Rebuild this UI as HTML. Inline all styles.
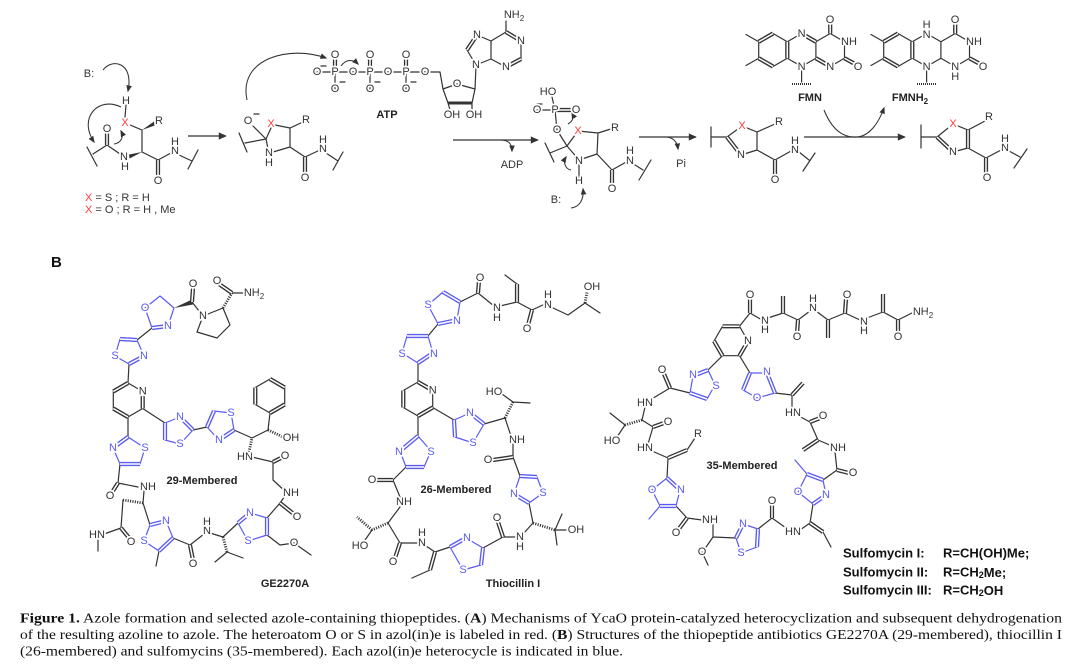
<!DOCTYPE html>
<html><head><meta charset="utf-8">
<style>
html,body{margin:0;padding:0;background:#fff;}
body{width:1080px;height:672px;overflow:hidden;}
svg{display:block;}
svg text{font-family:"Liberation Sans",Arial,sans-serif;}
.b{stroke:#333;stroke-width:1.2;fill:none;stroke-linecap:round;stroke-linejoin:round}
.u{stroke:#5b5bf0;stroke-width:1.2;fill:none;stroke-linecap:round;stroke-linejoin:round}
.dd{stroke:#333;stroke-width:4.2;fill:none}
.ud{stroke:#5b5bf0;stroke-width:4.2;fill:none}
.dw{stroke:#fff;stroke-width:1.5;fill:none}
.h{stroke:#333;stroke-width:2.8;fill:none;stroke-dasharray:1.1 1.3}
.c{stroke:#333;stroke-width:1.05;fill:none}
.t,.tb,.tr{font-size:11px;text-anchor:middle;dominant-baseline:central;stroke:#fff;stroke-width:3.5;paint-order:stroke;stroke-linejoin:round}
.t{fill:#333}.tb{fill:#5b5bf0}.tr{fill:#ff3b3b}
.bl{font-size:11px;font-weight:bold;fill:#222;text-anchor:middle;dominant-baseline:central}
.cap{font-family:"Liberation Serif","Times New Roman",serif !important;font-size:14px;fill:#111}
.sl{font-size:13px;font-weight:bold;fill:#111;dominant-baseline:central}
</style></head><body>
<svg width="1080" height="672" viewBox="0 0 1080 672" xmlns="http://www.w3.org/2000/svg">
<defs>
<marker id="m" viewBox="0 0 10 10" refX="8" refY="5" markerUnits="userSpaceOnUse" markerWidth="7" markerHeight="7" orient="auto"><path d="M0,1 L10,5 L0,9 z" fill="#333"/></marker>
<marker id="M" viewBox="0 0 10 10" refX="9" refY="5" markerUnits="userSpaceOnUse" markerWidth="11" markerHeight="8" orient="auto"><path d="M0,0.5 L10,5 L0,9.5 z" fill="#333"/></marker>
</defs>

<!-- ===== PART A single bonds ===== -->
<path class="b" d="M126,105L125,117 M130,125L142,130 M142,130L142,152 M107,145L120,154 M107,145L93,154 M87,147L97,166 M142,152L158,160 M158,160L171,153 M179,155L192,161 M188,169L198,150
M266,139L253,126 M266,139L271,128 M275,125L290,128 M290,128L290,147 M290,128L303,122 M290,147L273,152 M268,149L266,139 M266,139L245,143 M239,133L247,152 M290,147L305,157 M305,157L320,150 M326,153L338,161 M333,170L343,152
M317,72L440,72L443,89 M335,72L335,89 M370,72L370,89 M406,72L406,89 M443,89L457,84L475,89L472,103 M448,103L443,89 M448,103L450,110 M472,103L472,110 M475,89L476,66 M476,65L491,59L491,41L477,35L467,50Z M491,41L506,32L521,41L521,59L506,67L491,59 M506,32L506,21
M321,66L326,66 M340,82L345,82 M375,82L380,82 M411,82L416,82 M254,114L259,114 M537,104L542,104
M555,110L552,97 M555,110L537,110 M555,110L557,130 M557,130L567,146 M567,146L578,131 M578,131L598,133 M598,133L614,128 M598,133L597,154 M597,154L579,160 M579,160L567,146 M579,160L579,178 M567,146L550,153 M545,143L554,162 M597,154L612,170 M612,170L628,161 M632,163L643,170 M639,180L651,160
M711,127L711,147 M711,137L727,137 M727,137L742,126L757,132L757,150L741,155Z M757,132L775,124 M757,150L775,160 M775,160L791,151 M799,152L809,160 M803,171L815,153
M773,33.5L787.3,41.75L787.3,58.25L773,66.5L758.7,58.25L758.7,41.75Z M787.3,41.75L801.6,33.5L815.9,41.75L815.9,58.25L801.6,66.5L787.3,58.25 M815.9,41.75L830.2,33.5L844.5,41.75L844.5,58.25L830.2,66.5L815.9,58.25 M758.7,41.75L746,34.5 M758.7,58.25L746,65.5 M801.6,66.5L801.6,82
M898,33.5L912.3,41.75L912.3,58.25L898,66.5L883.7,58.25L883.7,41.75Z M912.3,41.75L926.6,33.5L940.9,41.75L940.9,58.25L926.6,66.5L912.3,58.25 M940.9,41.75L955.2,33.5L969.5,41.75L969.5,58.25L955.2,66.5L940.9,58.25 M883.7,41.75L871,34.5 M883.7,58.25L871,65.5 M926.6,66.5L926.6,82
M921,125L921,148 M921,137L937,137 M937,137L953,124L968,130L968,148L953,152Z M968,130L985,121 M968,148L986,158 M986,158L1001,150 M1009,151L1020,157 M1014,168L1027,149"/>
<path d="M448,103L472,103" stroke="#333" stroke-width="3" fill="none"/>
<path d="M792,84L812,84 M917,84L937,84" stroke="#333" stroke-width="2" stroke-dasharray="1 1" fill="none"/>
<polygon points="142,130 154,121.5 156,125" fill="#333"/>
<polygon points="142,152 129,154.5 129.5,158.5" fill="#333"/>

<!-- curved arrows -->
<g class="c" marker-end="url(#m)">
<path d="M103,70C112,58 134,62 128,91"/>
<path d="M121,107C98,96 78,118 94,142"/>
<path d="M114,144C121,143 124,137 121,131"/>
<path d="M247,100C238,58 290,45 326,58"/>
<path d="M341,66C346,59 353,59 358,64"/>
<path d="M500,140C508,140 512,143 512,151"/>
<path d="M568,124C573,121 574,117 572,113"/>
<path d="M571,170C565,169 563,162 566,157"/>
<path d="M571,208C580,207 584,199 583,189"/>
<path d="M665,137C673,137 677,141 678,149"/>
<path d="M824,110C832,130 843,138 857,137C870,136 879,122 884,108"/>
</g>
<g stroke="#333" stroke-width="1.2" fill="none" marker-end="url(#M)">
<path d="M188,136L226,136"/><path d="M453,140L538,140"/><path d="M639,137L696,137"/><path d="M804,137L905,137"/>
</g>

<!-- ===== PART B bonds ===== -->
<path class="b" d="M192,302L203,316 M203,316L223,308L230,325L217,338L197,332Z M232,293L244,293 M152,328L137,340 M129,364L128,383 M128,383L142.7,391.5L142.7,408.5L128,417L113.3,408.5L113.3,391.5Z M128,417L128,437 M120,464L118,483 M118,483L138,487 M144,491L143,503 M123,500L121,528 M121,528L104,534 M98,539L98,551 M143,503L150,525 M159,551L156,566 M173,538L190,545 M190,545L204,534 M210,533L223,537 M227,552L215,562 M227,552L243,558 M223,537L238,523 M267,535L280,545L294,543L311,555 M267,518L280,503 M280,503L287,493 M287,493L273,480L273,462 M273,462L252,457 M252,438L234,430 M252,438L268,430L270,413 M270,379L284.7,387.5L284.7,404.5L270,413L255.3,404.5L255.3,387.5Z M207,427L193,430 M165,423L142.7,408.5
M460,302L478,293 M478,293L494,306 M500,306L517,302 M517,284L505,275 M517,302L532,310 M532,310L545,304 M551,307L568,315L585,303L600,313 M438,324L428,336 M418,363L418,382 M418,382L432.7,390.5L432.7,407.5L418,416L403.3,407.5L403.3,390.5Z M418,416L418,436 M406,467L393,480 M393,480L400,497 M400,507L388,523 M372,530L363,543 M388,523L400,543 M400,543L418,543 M426,546L435,552 M430,570L412,578 M435,552L450,547 M483,548L503,537 M503,537L516,537 M524,533L533,523 M555,530L562,514 M555,530L557,545 M555,530L566,530 M533,523L529,503 M520,476L513,457 M513,457L513,444 M511,436L505,418 M513,402L530,403 M513,402L502,394 M505,418L484,424 M454,420L432.7,407.5
M748,341L739.5,326.3L722.5,326.3L714,341L722.5,355.7L739.5,355.7Z M739.5,326.3L750,313 M750,313L762,320 M768,318L783,313 M783,313L798,320 M798,320L810,311 M816,311L828,320 M828,320L845,313 M845,313L860,320 M867,318L883,312 M883,312L898,320 M898,320L912,313 M722.5,355.7L708,370 M690,393L670,388 M670,388L650,400 M645,407L642,420 M625,425L610,413 M625,425L617,437 M642,420L653,427 M653,427L648,444 M652,451L668,458 M687,450L695,438 M668,458L667,478 M676,506L687,518 M687,518L702,520 M713,524L713,537 M713,537L704,550 M702,552L708,565 M713,537L736,538 M758,529L772,518 M772,518L786,528 M800,530L810,523 M823,532L831,547 M810,523L813,504 M823,480L837,470 M837,470L835,452 M832,446L818,440 M818,440L810,422 M810,422L797,415 M792,409L792,395 M792,395L775,393 M750,373L739.5,355.7"/>
<path class="h" d="M223,308L232,293 M143,503L123,500 M223,537L227,552 M249,452L252,438 M268,430L283,437 M585,303L587,292 M388,523L372,530 M372,530L357,517 M533,523L555,530 M505,418L513,402 M642,420L625,425"/>
<polygon points="174,308 192,299.5 193,304.5" fill="#333"/>
<path class="u" d="M152,328L145,308L160,296L174,308L168,326Z M137,340L144,356L129,364L115,356L120,339Z M128,437L145,448L140,464L120,464L113,448Z M150,525L166,521L173,538L159,551L144,541Z M238,523L250,513L267,518L267,535L248,541Z M234,430L231,413L214,411L207,427L219,440Z M193,430L180,417L165,423L165,440L180,444Z
M438,324L428,305L443,292L460,302L457,320Z M428,336L433,353L418,363L402,353L407,336Z M418,436L431,451L424,467L406,467L400,451Z M450,547L466,538L483,548L481,565L463,570Z M529,503L543,493L537,477L520,476L514,494Z M484,424L470,413L454,420L455,437L473,443Z
M708,370L715,385L707,399L690,393L693,376Z M667,478L680,490L676,506L660,506L652,490Z M660,506L649,519 M736,538L743,524L758,529L757,547L741,553Z M813,504L826,495L823,480L807,474L798,492Z M807,474L795,460 M775,393L767,373L750,373L743,390L757,398Z"/>

<!-- double bonds -->
<path class="dd" d="M107,145L107,133 M158,160L158,176 M305,157L305,173 M335,72L335,58 M370,72L370,58 M406,72L406,58 M477,35L467,50 M506,32L521,41 M521,59L506,67 M555,110L573,110 M612,170L612,185 M727,137L741,155 M775,160L775,176 M758.7,41.75L773,33.5 M787.3,41.75L787.3,58.25 M773,66.5L758.7,58.25 M801.6,33.5L815.9,41.75 M815.9,58.25L830.2,66.5 M830.2,33.5L830.2,22 M844.5,58.25L855,64 M883.7,41.75L898,33.5 M912.3,41.75L912.3,58.25 M898,66.5L883.7,58.25 M955.2,33.5L955.2,22 M969.5,58.25L980,64 M937,137L953,152 M968,130L968,148 M986,158L986,174
M192,302L193,288 M113.3,391.5L128,383 M142.7,391.5L142.7,408.5 M128,417L113.3,408.5 M118,483L111,494 M121,528L130,539 M190,545L193,560 M280,503L295,515 M273,462L283,457 M270,379L284.7,387.5 M284.7,404.5L270,413 M255.3,404.5L255.3,387.5 M232,293L219,284
M478,293L479,281 M517,302L517,284 M532,310L528,325 M403.3,390.5L403.3,407.5 M418,382L432.7,390.5 M432.7,407.5L418,416 M393,480L377,480 M400,543L395,558 M435,552L430,570 M503,537L498,522 M513,457L493,460
M739.5,326.3L722.5,326.3 M714,341L722.5,355.7 M748,341L739.5,355.7 M750,313L750,298 M783,313L783,296 M798,320L797,334 M828,320L828,338 M845,313L846,299 M883,312L883,294 M898,320L898,334 M670,388L664,374 M653,427L664,423 M668,458L687,450 M687,518L678,530 M772,518L772,505 M810,523L823,532 M837,470L849,473 M818,440L803,450 M810,422L820,418 M792,395L803,383"/>
<path class="ud" d="M152,328L168,326 M137,340L120,339 M129,364L144,356 M128,437L113,448 M140,464L120,464 M150,525L166,521 M173,538L159,551 M238,523L250,513 M267,518L267,535 M234,430L219,440 M214,411L207,427 M193,430L180,417 M165,423L165,440
M443,292L460,302 M438,324L457,320 M428,336L407,336 M418,363L433,353 M418,436L400,451 M424,467L406,467 M450,547L466,538 M483,548L481,565 M537,477L520,476 M514,494L529,503 M484,424L470,413 M454,420L455,437
M708,370L693,376 M707,399L690,393 M667,478L680,490 M676,506L660,506 M736,538L743,524 M758,529L757,547 M813,504L826,495 M823,480L807,474 M775,393L767,373 M750,373L743,390"/>
<path class="dw" d="M107,145L107,133 M158,160L158,176 M305,157L305,173 M335,72L335,58 M370,72L370,58 M406,72L406,58 M477,35L467,50 M506,32L521,41 M521,59L506,67 M555,110L573,110 M612,170L612,185 M727,137L741,155 M775,160L775,176 M758.7,41.75L773,33.5 M787.3,41.75L787.3,58.25 M773,66.5L758.7,58.25 M801.6,33.5L815.9,41.75 M815.9,58.25L830.2,66.5 M830.2,33.5L830.2,22 M844.5,58.25L855,64 M883.7,41.75L898,33.5 M912.3,41.75L912.3,58.25 M898,66.5L883.7,58.25 M955.2,33.5L955.2,22 M969.5,58.25L980,64 M937,137L953,152 M968,130L968,148 M986,158L986,174
M192,302L193,288 M113.3,391.5L128,383 M142.7,391.5L142.7,408.5 M128,417L113.3,408.5 M118,483L111,494 M121,528L130,539 M190,545L193,560 M280,503L295,515 M273,462L283,457 M270,379L284.7,387.5 M284.7,404.5L270,413 M255.3,404.5L255.3,387.5 M232,293L219,284
M478,293L479,281 M517,302L517,284 M532,310L528,325 M403.3,390.5L403.3,407.5 M418,382L432.7,390.5 M432.7,407.5L418,416 M393,480L377,480 M400,543L395,558 M435,552L430,570 M503,537L498,522 M513,457L493,460
M739.5,326.3L722.5,326.3 M714,341L722.5,355.7 M748,341L739.5,355.7 M750,313L750,298 M783,313L783,296 M798,320L797,334 M828,320L828,338 M845,313L846,299 M883,312L883,294 M898,320L898,334 M670,388L664,374 M653,427L664,423 M668,458L687,450 M687,518L678,530 M772,518L772,505 M810,523L823,532 M837,470L849,473 M818,440L803,450 M810,422L820,418 M792,395L803,383
M152,328L168,326 M137,340L120,339 M129,364L144,356 M128,437L113,448 M140,464L120,464 M150,525L166,521 M173,538L159,551 M238,523L250,513 M267,518L267,535 M234,430L219,440 M214,411L207,427 M193,430L180,417 M165,423L165,440
M443,292L460,302 M438,324L457,320 M428,336L407,336 M418,363L433,353 M418,436L400,451 M424,467L406,467 M450,547L466,538 M483,548L481,565 M537,477L520,476 M514,494L529,503 M484,424L470,413 M454,420L455,437
M708,370L693,376 M707,399L690,393 M667,478L680,490 M676,506L660,506 M736,538L743,524 M758,529L757,547 M813,504L826,495 M823,480L807,474 M775,393L767,373 M750,373L743,390"/>

<!-- ===== Labels Part A ===== -->
<g>
<text class="t" x="89" y="74">B:</text>
<text class="t" x="126" y="101">H</text>
<text class="tr" x="125" y="123">X</text>
<text class="t" x="159" y="121">R</text>
<text class="t" x="124" y="157">N</text>
<text class="t" x="125" y="167">H</text>
<text class="t" x="107" y="129">O</text>
<text class="t" x="158" y="181">O</text>
<text class="t" x="175" y="151">N</text>
<text class="t" x="175" y="142">H</text>

<text class="t" x="248" y="121">O</text>
<text class="tr" x="271" y="124">X</text>
<text class="t" x="306" y="120">R</text>
<text class="t" x="269" y="153">N</text>
<text class="t" x="269" y="163">H</text>
<text class="t" x="305" y="178">O</text>
<text class="t" x="323" y="149">N</text>
<text class="t" x="323" y="140">H</text>

<text class="t" x="317" y="72">O</text>
<text class="t" x="335" y="72">P</text>
<text class="t" x="335" y="55">O</text>
<text class="t" x="335" y="89">O</text>
<text class="t" x="353" y="72">O</text>
<text class="t" x="370" y="72">P</text>
<text class="t" x="370" y="55">O</text>
<text class="t" x="370" y="89">O</text>
<text class="t" x="388" y="72">O</text>
<text class="t" x="406" y="72">P</text>
<text class="t" x="406" y="55">O</text>
<text class="t" x="406" y="89">O</text>
<text class="t" x="425" y="72">O</text>
<text class="t" x="457" y="84">O</text>
<text class="t" x="452" y="115">OH</text>
<text class="t" x="474" y="115">OH</text>
<text class="t" x="476" y="65">N</text>
<text class="t" x="477" y="35">N</text>
<text class="t" x="521" y="41">N</text>
<text class="t" x="506" y="67">N</text>
<text class="t" x="514" y="15">NH<tspan font-size="8" dy="3">2</tspan></text>
<text class="bl" x="387" y="115">ATP</text>
<text class="t" x="512" y="165">ADP</text>

<text class="t" x="548" y="92">HO</text>
<text class="t" x="537" y="110">O</text>
<text class="t" x="555" y="110">P</text>
<text class="t" x="576" y="110">O</text>
<text class="t" x="557" y="130">O</text>
<text class="tr" x="578" y="131">X</text>
<text class="t" x="615" y="128">R</text>
<text class="t" x="579" y="161">N</text>
<text class="t" x="579" y="181">H</text>
<text class="t" x="612" y="189">O</text>
<text class="t" x="630" y="161">N</text>
<text class="t" x="630" y="151">H</text>
<text class="t" x="556" y="200">B:</text>
<text class="t" x="681" y="164">Pi</text>

<text class="tr" x="742" y="126">X</text>
<text class="t" x="779" y="122">R</text>
<text class="t" x="741" y="155">N</text>
<text class="t" x="775" y="180">O</text>
<text class="t" x="795" y="150">N</text>
<text class="t" x="795" y="141">H</text>

<text class="t" x="801.6" y="34">N</text>
<text class="t" x="801.6" y="67">N</text>
<text class="t" x="849" y="42">NH</text>
<text class="t" x="830.2" y="67">N</text>
<text class="t" x="830" y="20">O</text>
<text class="t" x="858" y="67">O</text>
<text class="bl" x="810" y="98">FMN</text>

<text class="t" x="926.6" y="35">N</text>
<text class="t" x="926.6" y="25">H</text>
<text class="t" x="926.6" y="67">N</text>
<text class="t" x="974" y="42">NH</text>
<text class="t" x="955.2" y="67">N</text>
<text class="t" x="955.2" y="77">H</text>
<text class="t" x="955" y="20">O</text>
<text class="t" x="983" y="67">O</text>
<text class="bl" x="910" y="98">FMNH<tspan font-size="8" dy="3">2</tspan></text>

<text class="tr" x="953" y="124">X</text>
<text class="t" x="989" y="117">R</text>
<text class="t" x="953" y="152">N</text>
<text class="t" x="987" y="178">O</text>
<text class="t" x="1005" y="148">N</text>
<text class="t" x="1005" y="139">H</text>

<text x="85" y="198" font-size="11" fill="#333" dominant-baseline="central"><tspan fill="#ff3b3b">X</tspan> = S ; R = H</text>
<text x="85" y="210" font-size="11" fill="#333" dominant-baseline="central"><tspan fill="#ff3b3b">X</tspan> = O ; R = H , Me</text>
</g>

<!-- ===== Labels Part B ===== -->
<text x="51" y="267" font-family="Liberation Serif, serif" font-size="15" font-weight="bold" fill="#111">B</text>
<g>
<text class="tb" x="145" y="308">O</text>
<text class="tb" x="168" y="326">N</text>
<text class="tb" x="115" y="356">S</text>
<text class="tb" x="144" y="356">N</text>
<text class="tb" x="145" y="448">S</text>
<text class="tb" x="113" y="448">N</text>
<text class="tb" x="166" y="521">N</text>
<text class="tb" x="144" y="541">S</text>
<text class="tb" x="250" y="513">N</text>
<text class="tb" x="248" y="541">S</text>
<text class="tb" x="231" y="413">S</text>
<text class="tb" x="219" y="440">N</text>
<text class="tb" x="180" y="417">N</text>
<text class="tb" x="180" y="444">S</text>
<text class="t" x="193" y="284">O</text>
<text class="t" x="203" y="316">N</text>
<text class="t" x="217" y="281">O</text>
<text class="t" x="254" y="293">NH<tspan font-size="8" dy="3">2</tspan></text>
<text class="t" x="142.7" y="391.5">N</text>
<text class="t" x="110" y="496">O</text>
<text class="t" x="148" y="487">NH</text>
<text class="t" x="131" y="542">O</text>
<text class="t" x="97" y="535">HN</text>
<text class="t" x="193" y="564">O</text>
<text class="t" x="207" y="531">N</text>
<text class="t" x="207" y="522">H</text>
<text class="t" x="294" y="543">O</text>
<text class="t" x="297" y="517">O</text>
<text class="t" x="291" y="493">NH</text>
<text class="t" x="285" y="456">O</text>
<text class="t" x="245" y="457">HN</text>
<text class="t" x="291" y="438">OH</text>
<text class="bl" x="202" y="481">29-Membered</text>
<text class="bl" x="285" y="584" font-size="13">GE2270A</text>

<text class="tb" x="428" y="305">S</text>
<text class="tb" x="457" y="321">N</text>
<text class="tb" x="434" y="354">N</text>
<text class="tb" x="402" y="354">S</text>
<text class="tb" x="431" y="452">S</text>
<text class="tb" x="399" y="452">N</text>
<text class="tb" x="467" y="538">N</text>
<text class="tb" x="463" y="570">S</text>
<text class="tb" x="543" y="493">S</text>
<text class="tb" x="514" y="494">N</text>
<text class="tb" x="470" y="413">N</text>
<text class="tb" x="473" y="443">S</text>
<text class="t" x="480" y="278">O</text>
<text class="t" x="497" y="308">N</text>
<text class="t" x="497" y="318">H</text>
<text class="t" x="527" y="329">O</text>
<text class="t" x="548" y="305">N</text>
<text class="t" x="548" y="295">H</text>
<text class="t" x="592" y="287">OH</text>
<text class="t" x="432.7" y="390.5">N</text>
<text class="t" x="372" y="480">O</text>
<text class="t" x="404" y="502">NH</text>
<text class="t" x="360" y="546">HO</text>
<text class="t" x="393" y="562">O</text>
<text class="t" x="422" y="543">N</text>
<text class="t" x="422" y="533">H</text>
<text class="t" x="497" y="518">O</text>
<text class="t" x="520" y="537">N</text>
<text class="t" x="520" y="547">H</text>
<text class="t" x="576" y="530">OH</text>
<text class="t" x="488" y="460">O</text>
<text class="t" x="517" y="440">NH</text>
<text class="t" x="494" y="392">HO</text>
<text class="bl" x="456" y="490">26-Membered</text>
<text class="bl" x="513" y="584" font-size="13">Thiocillin I</text>

<text class="tb" x="716" y="386">S</text>
<text class="tb" x="693" y="375">N</text>
<text class="tb" x="681" y="490">N</text>
<text class="tb" x="652" y="490">O</text>
<text class="tb" x="743" y="524">N</text>
<text class="tb" x="741" y="553">S</text>
<text class="tb" x="826" y="495">N</text>
<text class="tb" x="798" y="492">O</text>
<text class="tb" x="767" y="372">N</text>
<text class="tb" x="757" y="398">O</text>
<text class="t" x="748" y="341">N</text>
<text class="t" x="750" y="295">O</text>
<text class="t" x="765" y="321">N</text>
<text class="t" x="765" y="330">H</text>
<text class="t" x="797" y="337">O</text>
<text class="t" x="813" y="308">N</text>
<text class="t" x="813" y="299">H</text>
<text class="t" x="847" y="295">O</text>
<text class="t" x="864" y="322">N</text>
<text class="t" x="864" y="331">H</text>
<text class="t" x="898" y="337">O</text>
<text class="t" x="923" y="312">NH<tspan font-size="8" dy="3">2</tspan></text>
<text class="t" x="662" y="370">O</text>
<text class="t" x="645" y="403">HN</text>
<text class="t" x="612" y="441">HO</text>
<text class="t" x="668" y="422">O</text>
<text class="t" x="645" y="448">HN</text>
<text class="t" x="698" y="434">R</text>
<text class="t" x="676" y="533">O</text>
<text class="t" x="710" y="520">NH</text>
<text class="t" x="702" y="552">O</text>
<text class="t" x="772" y="501">O</text>
<text class="t" x="793" y="532">HN</text>
<text class="t" x="853" y="473">O</text>
<text class="t" x="838" y="448">NH</text>
<text class="t" x="823" y="416">O</text>
<text class="t" x="793" y="413">HN</text>
<text class="bl" x="742" y="466">35-Membered</text>

<text class="sl" x="843" y="553">Sulfomycin I:</text>
<text class="sl" x="943" y="553">R=CH(OH)Me;</text>
<text class="sl" x="843" y="572">Sulfomycin II:</text>
<text class="sl" x="943" y="572">R=CH<tspan font-size="9" dy="3">2</tspan><tspan dy="-3">Me;</tspan></text>
<text class="sl" x="843" y="590">Sulfomycin III:</text>
<text class="sl" x="943" y="590">R=CH<tspan font-size="9" dy="3">2</tspan><tspan dy="-3">OH</tspan></text>
</g>

<!-- ===== Caption ===== -->
<text class="cap" x="20" y="622.5" textLength="1042" lengthAdjust="spacingAndGlyphs"><tspan font-weight="bold">Figure 1.</tspan> Azole formation and selected azole-containing thiopeptides. (<tspan font-weight="bold">A</tspan>) Mechanisms of YcaO protein-catalyzed heterocyclization and subsequent dehydrogenation</text>
<text class="cap" x="20" y="639" textLength="1042" lengthAdjust="spacingAndGlyphs">of the resulting azoline to azole. The heteroatom O or S in azol(in)e is labeled in red. (<tspan font-weight="bold">B</tspan>) Structures of the thiopeptide antibiotics GE2270A (29-membered), thiocillin I</text>
<text class="cap" x="20" y="655.5" textLength="603" lengthAdjust="spacingAndGlyphs">(26-membered) and sulfomycins (35-membered). Each azol(in)e heterocycle is indicated in blue.</text>
</svg>
</body></html>
